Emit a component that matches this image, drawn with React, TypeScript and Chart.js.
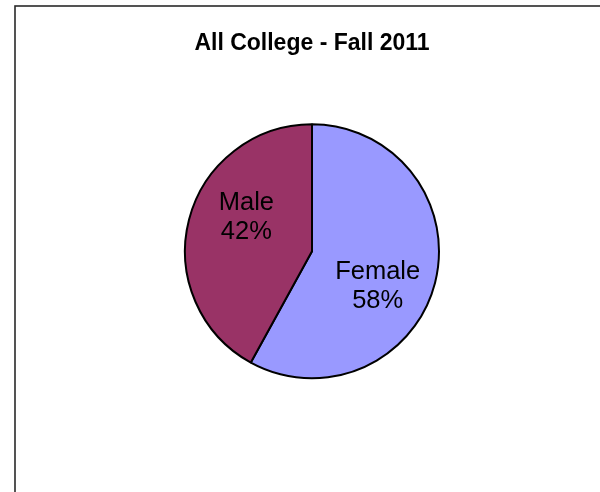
import React, { useEffect, useRef } from "react";
import { Chart, registerables } from "chart.js";

Chart.register(...registerables);

const TITLE = "All College - Fall 2011";
const categories = ["Female", "Male"];
const values = [58, 42];
const colors = ["#9999FF", "#993366"];

const FONT = "'Liberation Sans', Arial, Helvetica, sans-serif";

const framePlugin = {
  id: "frame",
  beforeDraw(chart: any) {
    const ctx = chart.ctx;
    ctx.save();
    ctx.fillStyle = "#ffffff";
    ctx.fillRect(0, 0, chart.width, chart.height);
    ctx.strokeStyle = "#2a2a2a";
    ctx.lineWidth = 1.6;
    ctx.strokeRect(15, 6, chart.width + 50, chart.height + 50);
    ctx.restore();
  },
};

const labelPlugin = {
  id: "sliceLabels",
  afterDatasetsDraw(chart: any) {
    const ctx = chart.ctx;
    const meta = chart.getDatasetMeta(0);
    const data = chart.data.datasets[0].data as number[];
    const total = data.reduce((a, b) => a + b, 0);
    ctx.save();
    ctx.fillStyle = "#000000";
    ctx.font = `25.5px ${FONT}`;
    ctx.textAlign = "center";
    ctx.textBaseline = "middle";
    meta.data.forEach((arc: any, i: number) => {
      const p = arc.getProps(["x", "y", "startAngle", "endAngle", "outerRadius"], true);
      const mid = (p.startAngle + p.endAngle) / 2 + (13.5 * Math.PI) / 180;
      const r = p.outerRadius * 0.585;
      const cx = p.x + Math.cos(mid) * r;
      const cy = p.y + Math.sin(mid) * r;
      const pct = Math.round((data[i] / total) * 100) + "%";
      ctx.fillText(chart.data.labels[i], cx, cy - 14);
      ctx.fillText(pct, cx, cy + 15);
    });
    ctx.restore();
  },
};

export default function App() {
  const ref = useRef<HTMLCanvasElement | null>(null);
  useEffect(() => {
    document.body.style.margin = "0";
    const chart = new Chart(ref.current as HTMLCanvasElement, {
      type: "pie",
      data: {
        labels: categories,
        datasets: [
          {
            data: values,
            backgroundColor: colors,
            borderColor: "#000000",
            borderWidth: 2,
            radius: 127,
          },
        ],
      },
      options: {
        animation: false,
        responsive: false,
        maintainAspectRatio: false,
        layout: { padding: { left: 24, right: 0, top: 0, bottom: 57 } },
        plugins: {
          legend: { display: false },
          tooltip: { enabled: false },
          title: {
            display: true,
            text: TITLE,
            color: "#000000",
            font: { family: FONT, size: 23, weight: "bold", lineHeight: 1.2 },
            padding: { top: 30, bottom: 10 },
          },
        },
      },
      plugins: [framePlugin, labelPlugin],
    });
    return () => chart.destroy();
  }, []);
  return (
    <div style={{ position: "fixed", left: 0, top: 0, width: 600, height: 492, background: "#fff" }}>
      <canvas ref={ref} width={600} height={492} style={{ width: 600, height: 492, display: "block" }} />
    </div>
  );
}
